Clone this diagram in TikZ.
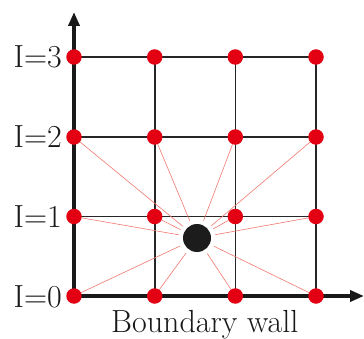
\documentclass[tikz,border=0pt]{standalone}
\usetikzlibrary{arrows.meta}
\definecolor{dotred}{RGB}{226,0,18}
\definecolor{rayred}{RGB}{240,120,110}
\definecolor{dotblack}{RGB}{28,28,28}
\begin{document}
\begin{tikzpicture}[x=1pt,y=1pt,
  gpt/.style={circle,fill=dotred,inner sep=0pt,minimum size=15.5pt,outer sep=0pt},
  part/.style={circle,fill=dotblack,inner sep=0pt,minimum size=28pt,outer sep=4.5pt},
  gridline/.style={line width=1.6pt,draw=black!85},
  axis/.style={line width=3.6pt,draw=black!90,-{Triangle[length=14pt,width=11pt]}},
  ray/.style={draw=rayred,line width=0.6pt},
  lab/.style={font=\fontsize{32}{38}\selectfont,text=black!90,inner sep=0pt}]
\useasboundingbox (0,0) rectangle (364,338);
% grid points
\foreach \i/\x in {0/74,1/154.7,2/235.3,3/316}{
  \foreach \j/\y in {0/42,1/121.5,2/201,3/281}{
    \coordinate (c\i\j) at (\x,\y);
  }
}
% grid lines
\foreach \j in {1,2,3}{ \draw[gridline] (c0\j) -- (c3\j); }
\foreach \i in {1,2,3}{ \draw[gridline] (c\i0) -- (c\i3); }
% axes
\coordinate (ytip) at (74,326);
\coordinate (xtip) at (364,42);
\draw[axis] ([yshift=-1.8pt]c00) -- (ytip);
\draw[axis] ([xshift=-1.8pt]c00) -- (xtip);
% nodes
\foreach \i in {0,1,2,3}{
  \foreach \j in {0,1,2,3}{
    \node[gpt] (p\i\j) at (c\i\j) {};
  }
}
\node[part] (P) at (197,100) {};
% rays
\foreach \i in {0,1,2,3}{
  \foreach \j in {0,1,2}{
    \draw[ray] (p\i\j) -- (P);
  }
}
% labels
\foreach \j in {0,1,2,3}{
  \node[lab,anchor=base east] (l\j) at ([xshift=-12pt,yshift=-11pt]c0\j) {I=\j};
}
\node[lab,anchor=base west] (bw) at (111,6) {Boundary wall};
\end{tikzpicture}
\end{document}
